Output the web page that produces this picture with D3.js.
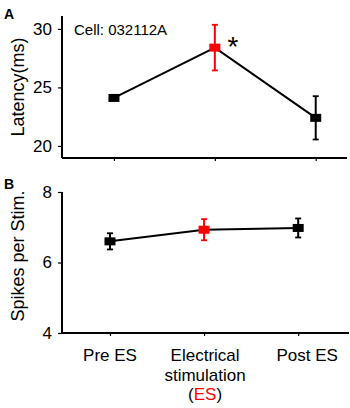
<!DOCTYPE html>
<html>
<head>
<meta charset="utf-8">
<title>latency and spikes</title>
<script src="https://cdn.jsdelivr.net/npm/d3@7"></script>
<style>
  body { margin: 0; background: #fff; }
  svg { font-family: "Liberation Sans", Arial, sans-serif; }
</style>
</head>
<body>
<div id="container"></div>
<script>
// data
var conditions = ["Pre ES", "Electrical stimulation (ES)", "Post ES"];
var latencyMean = [24.1, 28.4, 22.4];
var latencyErr = [0.15, 1.95, 1.85];
var spikesMean = [6.6, 6.93, 6.98];
var spikesErr = [0.23, 0.3, 0.27];
var latencyTicks = [20, 25, 30];
var spikesTicks = [4, 6, 8];
var markColors = ["#000", "#ff0000", "#000"];

var width = 350, height = 408;
var svg = d3.select("#container").append("svg")
    .attr("width", width)
    .attr("height", height);

var idx = [1, 2, 3];

function panel(opts) {
  var g = svg.append("g");
  var x = d3.scaleLinear().domain(opts.xDomain).range([62, opts.xRight]);
  var y = d3.scaleLinear().domain(opts.yDomain).range(opts.yRange);

  var yAxis = d3.axisLeft(y).tickValues(opts.ticks).tickSize(4).tickPadding(6).tickFormat(d3.format("d"));
  var gy = g.append("g").attr("transform", "translate(62,0)").call(yAxis);
  var xAxis = d3.axisBottom(x).tickValues(idx).tickSize(3).tickFormat("");
  var gx = g.append("g").attr("transform", "translate(0," + opts.yRange[0] + ")").call(xAxis);

  [gy, gx].forEach(function(a) {
    a.select(".domain").attr("stroke", "#000").attr("stroke-width", 2);
    a.selectAll(".tick line").attr("stroke", "#000").attr("stroke-width", 1.2);
  });
  gy.selectAll(".tick text").attr("font-size", 17).attr("fill", "#000")
    .attr("font-family", "Liberation Sans, Arial, sans-serif");
  // axis domain without outer ticks
  gy.select(".domain").attr("d", "M0," + opts.yRange[0] + "V" + opts.yRange[1]);
  gx.select(".domain").attr("d", "M62,0H" + opts.xRight);

  var pts = idx.map(function(d, i) { return {x: d, m: opts.mean[i], e: opts.err[i], c: markColors[i]}; });

  g.append("path")
    .datum(pts)
    .attr("fill", "none")
    .attr("stroke", "#000")
    .attr("stroke-width", 2)
    .attr("d", d3.line().x(function(d) { return x(d.x); }).y(function(d) { return y(d.m); }));

  var eb = g.selectAll(".err").data(pts).enter().append("g").attr("class", "err");
  eb.append("line")
    .attr("x1", function(d) { return x(d.x); })
    .attr("x2", function(d) { return x(d.x); })
    .attr("y1", function(d) { return y(d.m - d.e); })
    .attr("y2", function(d) { return y(d.m + d.e); })
    .attr("stroke", function(d) { return d.c; })
    .attr("stroke-width", 2);
  [-1, 1].forEach(function(s) {
    eb.append("line")
      .attr("x1", function(d) { return x(d.x) - 3; })
      .attr("x2", function(d) { return x(d.x) + 3; })
      .attr("y1", function(d) { return y(d.m + s * d.e); })
      .attr("y2", function(d) { return y(d.m + s * d.e); })
      .attr("stroke", function(d) { return d.c; })
      .attr("stroke-width", 1.8);
  });
  g.selectAll(".mk").data(pts).enter().append("rect")
    .attr("class", "mk")
    .attr("x", function(d) { return x(d.x) - 5.5; })
    .attr("y", function(d) { return y(d.m) - 4; })
    .attr("width", 11)
    .attr("height", 8)
    .attr("fill", function(d) { return d.c; });

  g.append("text")
    .attr("transform", "translate(" + 24 + "," + opts.titleY + ") rotate(-90)")
    .attr("text-anchor", "middle")
    .attr("font-size", 18)
    .text(opts.title);

  g.append("text")
    .attr("x", 4).attr("y", opts.letterY)
    .attr("font-size", 14).attr("font-weight", "bold")
    .text(opts.letter);

  return {g: g, x: x, y: y};
}

var pA = panel({
  xDomain: [0.485, 3.31], xRight: 347,
  yDomain: [18.97, 31.1], yRange: [158, 16],
  ticks: latencyTicks, mean: latencyMean, err: latencyErr,
  title: "Latency(ms)", titleY: 87, letter: "A", letterY: 19
});

var pB = panel({
  xDomain: [0.49, 3.54], xRight: 349,
  yDomain: [4, 8], yRange: [333, 192],
  ticks: spikesTicks, mean: spikesMean, err: spikesErr,
  title: "Spikes per Stim.", titleY: 256, letter: "B", letterY: 189
});

pA.g.append("text")
  .attr("x", 74).attr("y", 35)
  .attr("font-size", 15)
  .text("Cell: 032112A");

pA.g.append("text")
  .attr("x", pA.x(2) + 18).attr("y", pA.y(latencyMean[1]) + 8)
  .attr("text-anchor", "middle")
  .attr("font-size", 28)
  .text("*");

// x category labels
var lab = svg.append("g").attr("font-size", 17).attr("text-anchor", "middle");
lab.append("text").attr("x", pB.x(1)).attr("y", 361).text(conditions[0]);
var es = lab.append("text").attr("x", pB.x(2) + 1).attr("y", 361);
es.append("tspan").attr("x", pB.x(2) + 1).text("Electrical");
es.append("tspan").attr("x", pB.x(2) + 1).attr("dy", 20).text("stimulation");
var t3 = es.append("tspan").attr("x", pB.x(2) + 1).attr("dy", 19);
t3.append("tspan").text("(");
t3.append("tspan").attr("fill", "#ff0000").text("ES");
t3.append("tspan").text(")");
lab.append("text").attr("x", pB.x(3) + 9).attr("y", 361).text(conditions[2]);
</script>
</body>
</html>
